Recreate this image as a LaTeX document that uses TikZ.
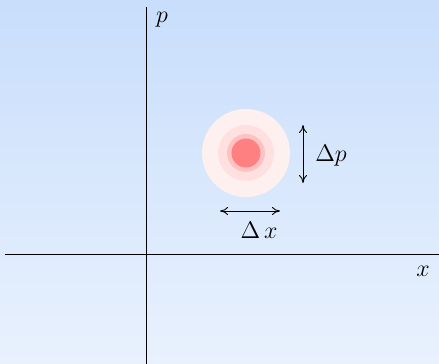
\documentclass[tikz,border=0pt]{standalone}
\usepackage{tikz}
\usetikzlibrary{arrows.meta, positioning}
\definecolor{fondoArriba}{HTML}{C8DEFC}
\definecolor{fondoAbajo}{HTML}{E9F1FD}
\definecolor{rosaUno}{HTML}{FFF0F0}
\definecolor{rosaDos}{HTML}{FFE0E0}
\definecolor{rosaTres}{HTML}{FFC2C2}
\definecolor{rosaCuatro}{HTML}{FF8080}

\begin{document}
\begin{tikzpicture}[
        x=0.5pt, y=-0.5pt,
        font=\large,
        eje/.style={line width=0.5pt},
        mancha/.style={circle, inner sep=0pt, draw=none},
        rel/.style={{To[length=4pt, width=4pt]}-{To[length=4pt, width=4pt]}, line width=0.45pt}
    ]
        \shade[top color=fondoArriba, bottom color=fondoAbajo] (0,0) rectangle (439,364);
        \useasboundingbox (0,0) rectangle (439,364);
        % ejes
        \coordinate (xizq) at (5,254);
        \coordinate (xder) at (439,254);
        \coordinate (pabajo) at (146,364);
        \coordinate (parriba) at (146,7);
        \draw[eje] (xizq) -- (xder);
        \draw[eje] (pabajo) -- (parriba);
        \node (etqp) at (162,20) {$p$};
        \node (etqx) at (423,271) {$x$};
        % paquete
        \coordinate (centro) at (246,153);
        \node[mancha, fill=rosaUno, minimum size=44pt] (m1) at (centro) {};
        \node[mancha, fill=rosaDos, minimum size=28pt] (m2) at (centro) {};
        \node[mancha, fill=rosaTres, minimum size=19pt] (m3) at (centro) {};
        \node[mancha, fill=rosaCuatro, minimum size=14.5pt] (m4) at (centro) {};
        % anchuras
        \coordinate (dpa) at (303,125);
        \coordinate (dpb) at (303,183);
        \coordinate (dxa) at (220,211);
        \coordinate (dxb) at (280,211);
        \draw[rel] (dpa) -- (dpb);
        \draw[rel] (dxa) -- (dxb);
        \node (etqdp) at (331,156) {$\Delta p$};
        \node (etqdx) at (259,230) {$\Delta\,x$};
    \end{tikzpicture}
\end{document}
